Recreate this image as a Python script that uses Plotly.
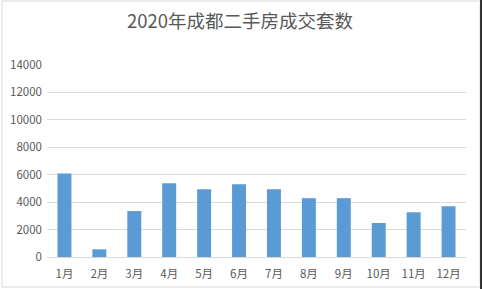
import plotly.graph_objects as go

months = ["1月", "2月", "3月", "4月", "5月", "6月", "7月", "8月", "9月", "10月", "11月", "12月"]
deals = [6090, 560, 3350, 5380, 4940, 5310, 4940, 4290, 4290, 2480, 3260, 3700]
y_ticks = [0, 2000, 4000, 6000, 8000, 10000, 12000, 14000]
y_tick_labels = ["0", "2000", "4000", "6000", "8000", "10000", "12000", "14000"]
title_text = "2020年成都二手房成交套数"

font_family = "Noto Sans CJK SC, Microsoft YaHei, sans-serif"
text_color = "#595959"

fig = go.Figure(
    go.Bar(x=months, y=deals, marker=dict(color="#5B9BD5", line=dict(width=0)), width=0.4)
)

L, R, T, B = 47, 18, 65, 32
W, H = 484, 289
pw, ph = W - L - R, H - T - B

def px_x(p):
    return (p - L) / pw

def px_y(p):
    return (H - B - p) / ph

fig.update_layout(
    width=W,
    height=H,
    margin=dict(l=L, r=R, t=T, b=B, autoexpand=False),
    paper_bgcolor="white",
    plot_bgcolor="white",
    showlegend=False,
    title=dict(
        text=title_text,
        x=(240) / W,
        xanchor="center",
        y=1 - 22 / H,
        yanchor="middle",
        font=dict(family=font_family, size=18.5, color=text_color),
    ),
    xaxis=dict(
        type="category",
        automargin=False,
        showgrid=False,
        showline=True,
        linecolor="#D9D9D9",
        linewidth=1,
        ticks="",
        ticklabelstandoff=6,
        tickfont=dict(family=font_family, size=11.5, color=text_color),
    ),
    yaxis=dict(
        range=[0, 14000],
        automargin=False,
        tickvals=y_ticks,
        ticktext=y_tick_labels,
        showgrid=True,
        gridcolor="#D9D9D9",
        gridwidth=1,
        zeroline=False,
        showline=False,
        ticks="",
        ticklabelstandoff=4,
        tickfont=dict(family=font_family, size=11.5, color=text_color),
    ),
    shapes=[
        dict(type="rect", xref="paper", yref="paper",
             x0=px_x(2), x1=px_x(480), y0=px_y(287), y1=px_y(1),
             line=dict(color="#D9D9D9", width=1), fillcolor="rgba(0,0,0,0)", layer="below"),
        dict(type="line", xref="paper", yref="paper",
             x0=px_x(481), x1=px_x(481), y0=px_y(289), y1=px_y(0),
             line=dict(color="#333333", width=2)),
    ],
)

fig.write_html("out.html")
